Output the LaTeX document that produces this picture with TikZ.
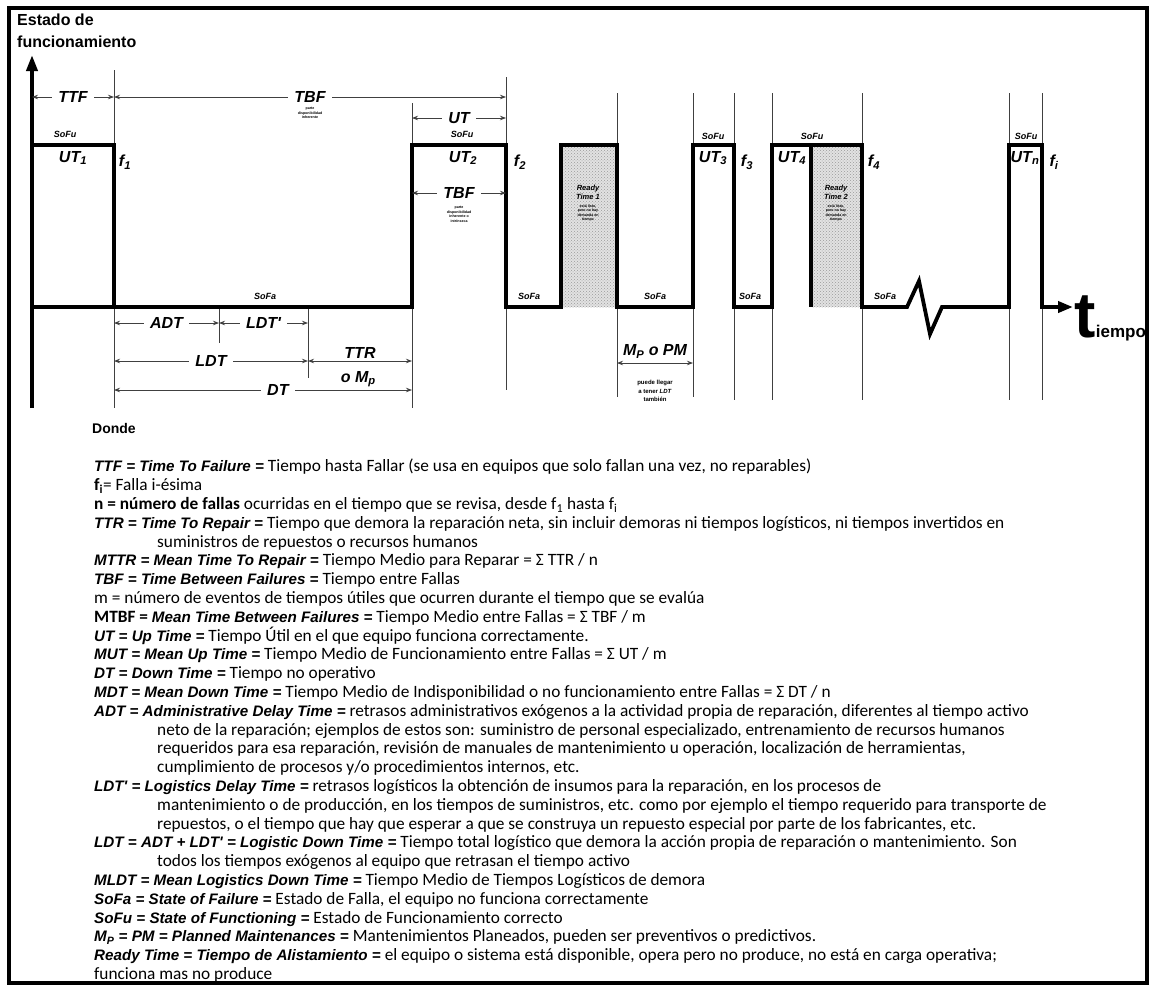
\documentclass[tikz,border=0pt]{standalone}
\usepackage{fontspec}
\setmainfont{Carlito}
\newfontfamily\arialfont{Liberation Sans}
\usetikzlibrary{arrows.meta, positioning, patterns}
\definecolor{estadoInk}{RGB}{0,0,0}
\definecolor{guiaGray}{RGB}{64,64,64}
\definecolor{listoGray}{RGB}{226,226,226}
\newcommand{\termino}[1]{{\arialfont\bfseries\itshape\fontsize{15.2}{18.8}\selectfont #1}}

\begin{document}
\begin{tikzpicture}[x=1pt, y=-1pt,
    marco/.style={draw=estadoInk, line width=3.5pt},
    onda/.style={draw=estadoInk, line width=3.8pt, line join=miter},
    guia/.style={draw=guiaGray, line width=0.9pt},
    cota/.style={{Stealth[length=6pt,width=4.5pt]}-{Stealth[length=6pt,width=4.5pt]}, draw=guiaGray, line width=0.8pt},
    etiq/.style={font=\arialfont\bfseries\itshape\fontsize{16}{17}\selectfont, text=estadoInk, inner sep=1.5pt},
    hueco/.style={etiq, fill=white, inner xsep=6pt},
    estado/.style={font=\arialfont\bfseries\itshape\fontsize{9}{10}\selectfont, inner sep=0pt},
    titulo/.style={font=\arialfont\bfseries\fontsize{16}{18}\selectfont, inner sep=0pt},
    mini/.style={font=\arialfont\bfseries\fontsize{3.6}{4.4}\selectfont, align=center, inner sep=0pt},
    rt/.style={font=\arialfont\bfseries\itshape\fontsize{7.5}{9}\selectfont, align=center, inner sep=0pt},
    punteado/.style={preaction={fill=listoGray}, pattern=crosshatch dots, pattern color=black!40},
    leyenda/.style={font=\fontsize{17.3}{18.8}\selectfont, align=left, inner sep=0pt}
  ]
  \useasboundingbox (0,0) rectangle (1152,986);
  \draw[marco] (9,8) rectangle (1147,983);

  \node[titulo, anchor=base west] (estado) at (17,25) {Estado de};
  \node[titulo, anchor=base west] (funcion) at (17,47) {funcionamiento};

  \foreach \gx/\ga/\gb in {114/70/408, 219/307/343, 308/307/378, 412/103/408, 506/77/390,
      617/93/397, 693/93/397, 734/93/400, 772/93/400, 862/93/400, 1009/93/400, 1042/93/400}
    \draw[guia] (\gx,\ga) -- (\gx,\gb);

  \path[punteado] (561,145) rectangle (617,307);
  \path[punteado] (811,145) rectangle (862,307);

  \draw[onda, -{Triangle[length=16pt,width=11pt]}] (32,408) -- (32,55);
  \draw[onda] (32,145) -- (114,145) -- (114,307);
  \draw[onda, -{Triangle[length=15pt,width=11pt]}] (32,307) -- (412,307) -- (412,145) -- (506,145)
    -- (506,307) -- (561,307) -- (561,145) -- (617,145) -- (617,307) -- (693,307) -- (693,145)
    -- (734,145) -- (734,307) -- (772,307) -- (772,145) -- (862,145) -- (862,307) -- (907,307)
    -- (919,281) -- (930,334) -- (942,307) -- (1009,307) -- (1009,145) -- (1042,145) -- (1042,307)
    -- (1073,307);
  \draw[onda] (811,145) -- (811,307);

  \coordinate (ejeY) at (32,307);
  \coordinate (f1) at (114,307);
  \coordinate (adtFin) at (219,307);
  \coordinate (ldtFin) at (308,307);
  \coordinate (ut2) at (412,307);
  \coordinate (f2) at (506,307);
  \coordinate (mpIni) at (617,307);
  \coordinate (ut3) at (693,307);

  \draw[cota] (ejeY |- 0,97) -- node[hueco] (ttf) {TTF} (f1 |- 0,97);
  \draw[cota] (f1 |- 0,97) -- node[hueco] (tbf) {TBF} (f2 |- 0,97);
  \draw[cota] (ut2 |- 0,118) -- node[hueco] (ut) {UT} (f2 |- 0,118);
  \draw[cota] (ut2 |- 0,193) -- node[hueco] (tbfDos) {TBF} (f2 |- 0,193);
  \draw[cota] (f1 |- 0,323) -- node[hueco] (adt) {ADT} (adtFin |- 0,323);
  \draw[cota] (adtFin |- 0,323) -- node[hueco] (ldtp) {LDT'} (ldtFin |- 0,323);
  \draw[cota] (f1 |- 0,361) -- node[hueco] (ldt) {LDT} (ldtFin |- 0,361);
  \draw[cota] (ldtFin |- 0,361) -- node[etiq, above=1pt] (ttr) {TTR} (ut2 |- 0,361);
  \draw[cota] (f1 |- 0,390) -- node[hueco, pos=0.55] (dt) {DT}
    node[etiq, above=1pt, pos=0.82] (oMp) {o M\textsubscript{p}} (ut2 |- 0,390);
  \draw[cota] (mpIni |- 0,363) -- node[etiq, above=3pt] (mp) {M\textsubscript{P} o PM}
    node[mini, below=17pt, font=\arialfont\bfseries\fontsize{6}{8.5}\selectfont] (puede) {puede llegar\\a tener \textit{LDT}\\también} (ut3 |- 0,363);

  \node[mini, below=3pt of tbf] (tbfNota) {parte\\disponibilidad\\inherente};
  \node[mini, below=6pt of tbfDos] (tbfDosNota) {parte\\disponibilidad\\inherente o\\intrínseca};

  \foreach \sx/\sy in {65/134, 462/134, 713/136, 812/136, 1026/136}
    \node[estado] (sofu-\sx) at (\sx,\sy) {SoFu};
  \foreach \sx in {265, 529, 655, 750, 885}
    \node[estado] (sofa-\sx) at (\sx,296) {SoFa};
  \foreach \ux/\us in {73/1, 463/2, 713/3, 792/4, 1025/n}
    \node[etiq] (ut-\us) at (\ux,158) {UT\textsubscript{\us}};
  \foreach \fx/\fs in {125/1, 520/2, 747/3, 874/4, 1054/i}
    \node[etiq] (f-\fs) at (\fx,162) {f\textsubscript{\fs}};

  \node[rt] (rt1) at (588,192) {Ready\\Time 1};
  \node[mini, below=5pt of rt1] (rt1Nota) {está listo,\\pero no hay\\demanda en\\tiempo};
  \node[rt] (rt2) at (836,192) {Ready\\Time 2};
  \node[mini, below=5pt of rt2] (rt2Nota) {está listo,\\pero no hay\\demanda en\\tiempo};

  \node[anchor=base west, inner sep=0pt, font=\arialfont\bfseries\fontsize{64}{64}\selectfont] (tBig) at (1074,337) {t};
  \node[anchor=base west, inner sep=0pt, font=\arialfont\bfseries\fontsize{17}{17}\selectfont] (iempo) at (tBig.base east) {iempo};

  \node[titulo, anchor=base west, font=\arialfont\bfseries\fontsize{14}{16}\selectfont] (donde) at (92,433) {Donde};

  \node[leyenda, anchor=north west] (defs) at (94,459) {%
    \termino{TTF = Time To Failure =} Tiempo hasta Fallar (se usa en equipos que solo fallan una vez, no reparables)\\
    \textbf{f\textsubscript{i}}= Falla i-ésima\\
    \textbf{n = número de fallas} ocurridas en el tiempo que se revisa, desde f\textsubscript{1} hasta f\textsubscript{i}\\
    \termino{TTR = Time To Repair =} Tiempo que demora la reparación neta, sin incluir demoras ni tiempos logísticos, ni tiempos invertidos en\\
    \hspace*{63pt}suministros de repuestos o recursos humanos\\
    \termino{MTTR = Mean Time To Repair =} Tiempo Medio para Reparar = Σ TTR / n\\
    \termino{TBF = Time Between Failures =} Tiempo entre Fallas\\
    m = número de eventos de tiempos útiles que ocurren durante el tiempo que se evalúa\\
    \textbf{MTBF =} \termino{Mean Time Between Failures =} Tiempo Medio entre Fallas = Σ TBF / m\\
    \termino{UT = Up Time =} Tiempo Útil en el que equipo funciona correctamente.\\
    \termino{MUT = Mean Up Time =} Tiempo Medio de Funcionamiento entre Fallas = Σ UT / m\\
    \termino{DT = Down Time =} Tiempo no operativo\\
    \termino{MDT = Mean Down Time =} Tiempo Medio de Indisponibilidad o no funcionamiento entre Fallas = Σ DT / n\\
    \termino{ADT = Administrative Delay Time =} retrasos administrativos exógenos a la actividad propia de reparación, diferentes al tiempo activo\\
    \hspace*{63pt}neto de la reparación; ejemplos de estos son: suministro de personal especializado, entrenamiento de recursos humanos\\
    \hspace*{63pt}requeridos para esa reparación, revisión de manuales de mantenimiento u operación, localización de herramientas,\\
    \hspace*{63pt}cumplimiento de procesos y/o procedimientos internos, etc.\\
    \termino{LDT' = Logistics Delay Time =} retrasos logísticos la obtención de insumos para la reparación, en los procesos de\\
    \hspace*{63pt}mantenimiento o de producción, en los tiempos de suministros, etc. como por ejemplo el tiempo requerido para transporte de\\
    \hspace*{63pt}repuestos, o el tiempo que hay que esperar a que se construya un repuesto especial por parte de los fabricantes, etc.\\
    \termino{LDT = ADT + LDT' = Logistic Down Time =} Tiempo total logístico que demora la acción propia de reparación o mantenimiento. Son\\
    \hspace*{63pt}todos los tiempos exógenos al equipo que retrasan el tiempo activo\\
    \termino{MLDT = Mean Logistics Down Time =} Tiempo Medio de Tiempos Logísticos de demora\\
    \termino{SoFa = State of Failure =} Estado de Falla, el equipo no funciona correctamente\\
    \termino{SoFu = State of Functioning =} Estado de Funcionamiento correcto\\
    \termino{M\textsubscript{P} = PM = Planned Maintenances =} Mantenimientos Planeados, pueden ser preventivos o predictivos.\\
    \termino{Ready Time = Tiempo de Alistamiento =} el equipo o sistema está disponible, opera pero no produce, no está en carga operativa;\\
    funciona mas no produce};
\end{tikzpicture}
\end{document}
